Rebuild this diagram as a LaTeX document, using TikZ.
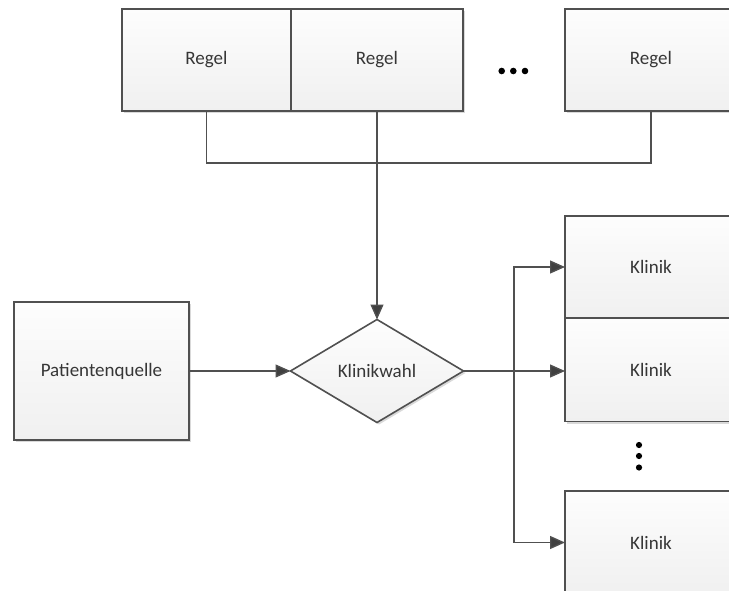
\documentclass[tikz,border=0pt]{standalone}
\usepackage{fontspec}
\setmainfont{Carlito}
\usetikzlibrary{arrows.meta,shapes.geometric,shadows}

\definecolor{edge}{HTML}{505050}
\definecolor{tip}{HTML}{404040}
\definecolor{ink}{HTML}{363636}
\definecolor{filltop}{HTML}{FDFDFD}
\definecolor{fillbot}{HTML}{F0F0F0}

\tikzset{
  box/.style={draw=edge, line width=1.6pt, inner sep=0pt, outer sep=0pt,
    top color=filltop, bottom color=fillbot, text=ink,
    font=\fontsize{19}{23}\selectfont,
    drop shadow={shadow xshift=2pt, shadow yshift=-2pt, opacity=0.15, fill=black}},
  decision/.style={box, diamond, aspect=1.7},
  link/.style={draw=edge, line width=1.4pt},
  flow/.style={link, -{Triangle[length=15pt,width=13pt,fill=tip]}},
  dotmark/.style={fill=black}
}

\begin{document}
\begin{tikzpicture}[x=1pt,y=-1pt]
  \useasboundingbox (0,0) rectangle (729,591);
  \clip (0,0) rectangle (729,591);

  % rule boxes in the top row
  \node[box, minimum width=169pt, minimum height=102pt] (r1) at (206.5,60) {Regel};
  \node[box, minimum width=172pt, minimum height=102pt] (r2) at (377,60) {Regel};
  \node[box, minimum width=172pt, minimum height=102pt] (r3) at (651,60) {Regel};
  \foreach \x in {501.7,513.3,525} \fill[dotmark] (\x,71) circle (3.3pt);

  % source and decision
  \node[box, minimum width=175pt, minimum height=138pt] (pq) at (101.5,371) {Patientenquelle};
  \node[decision, minimum width=173pt, minimum height=103pt] (kw) at (377,371) {Klinikwahl};

  % clinics on the right
  \node[box, minimum width=172pt, minimum height=102pt] (k1) at (651,267) {Klinik};
  \node[box, minimum width=172pt, minimum height=103pt] (k2) at (651,370) {Klinik};
  \node[box, minimum width=172pt, minimum height=103pt] (k4) at (651,542.5) {Klinik};
  \foreach \y in {445,456,467.5} \fill[dotmark] (639,\y) circle (3.1pt);

  % rule bus into the decision
  \coordinate (bus) at (377,163);
  \draw[link] (r1.south) |- (bus) -| (r3.south);
  \draw[flow] (r2.south) -- (kw.north);

  % patient flow
  \draw[flow] (pq.east) -- (kw.west);
  \coordinate (split) at (514,371);
  \draw[flow] (kw.east) -- (kw.east -| k2.west);
  \draw[flow] (split) |- (k1.west);
  \draw[flow] (split) |- (k4.west);
\end{tikzpicture}
\end{document}
